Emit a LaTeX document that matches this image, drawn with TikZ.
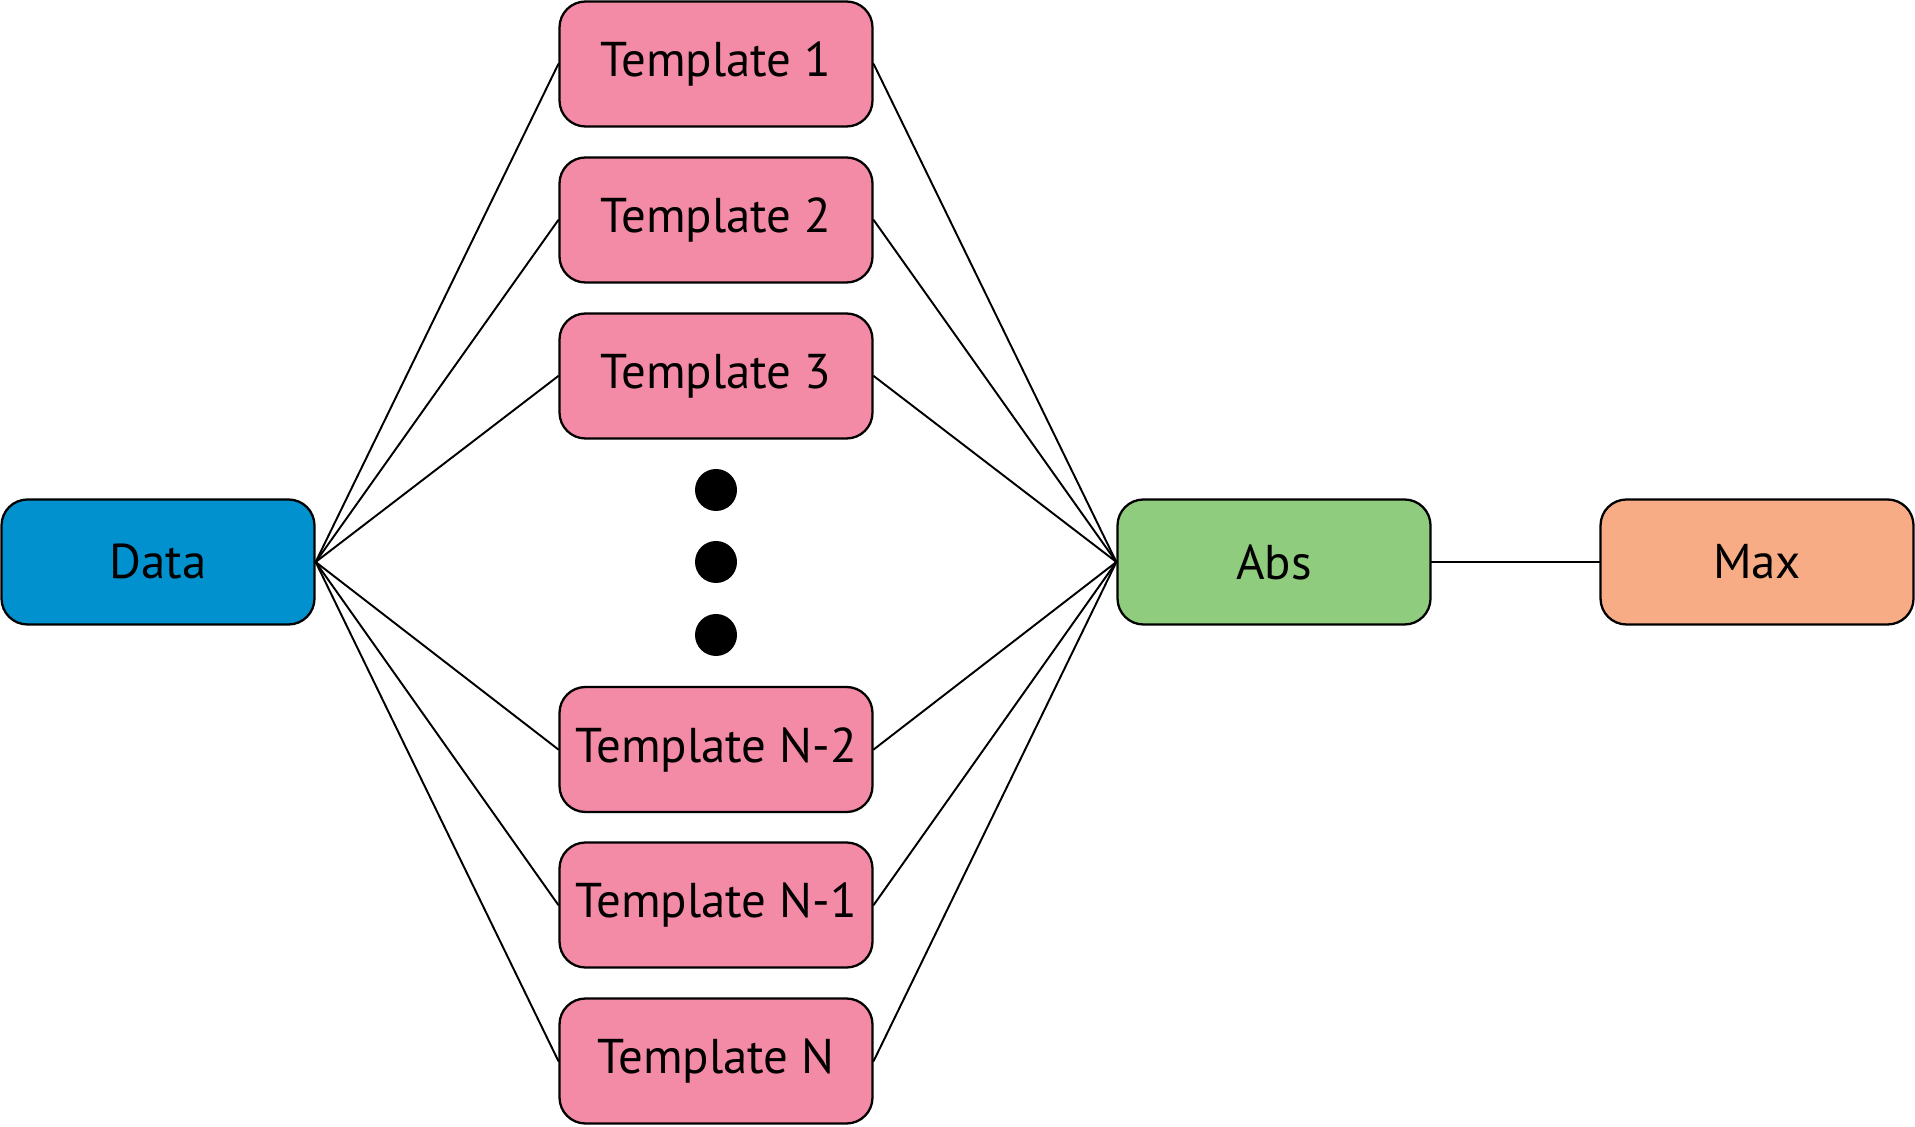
\documentclass[tikz,border=0pt]{standalone}
\usepackage{fontspec}
\setmainfont{PT Sans}
\definecolor{datablue}{RGB}{0,145,206}
\definecolor{tplpink}{RGB}{243,138,166}
\definecolor{absgreen}{RGB}{143,204,126}
\definecolor{maxorange}{RGB}{248,172,133}
\tikzset{box/.style={draw, line width=0.65pt, rounded corners=0.26cm, minimum width=3.13cm, minimum height=1.25cm, inner sep=0pt}}
\begin{document}
\begin{tikzpicture}[scale=1, font=\fontsize{13.9}{17}\selectfont, line join=round, line cap=round]
\useasboundingbox (0,0) rectangle (19.15,11.26);
\node[box, fill=datablue] (data) at (1.58,5.64) {Data};
\node[box, fill=absgreen] (abs) at (12.74,5.64) {Abs};
\node[box, fill=maxorange] (max) at (17.57,5.64) {Max};
\foreach \i/\y/\t in {1/10.62/1, 2/9.06/2, 3/7.50/3, 4/3.765/N-2, 5/2.21/N-1, 6/0.65/N}{
\node[box, fill=tplpink] (t\i) at (7.16,\y) {Template \t};
\draw[line width=0.55pt] (data.east)--(t\i.west) (t\i.east)--(abs.west);
}
\draw[line width=0.55pt] (abs.east)--(max.west);
\foreach \y in {6.36,5.64,4.91} \fill (7.16,\y) circle(0.21);
\end{tikzpicture}
\end{document}
